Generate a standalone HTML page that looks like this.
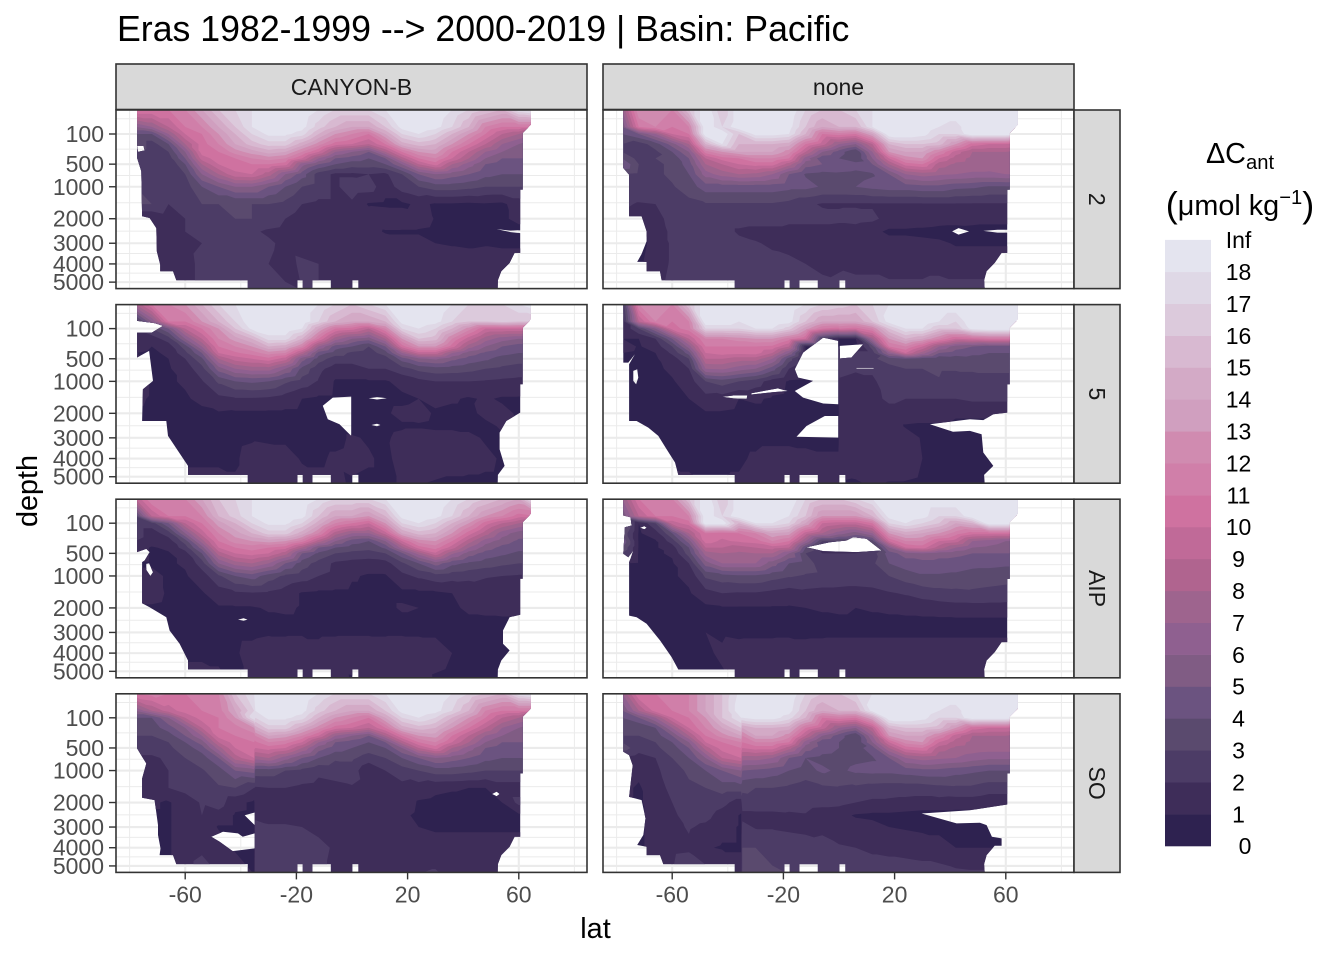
<!DOCTYPE html>
<html lang="en">
<head>
<meta charset="utf-8">
<title>Eras 1982-1999 --> 2000-2019 | Basin: Pacific</title>
<style>
html,body{margin:0;padding:0;background:#fff;}
svg{display:block;font-family:"Liberation Sans",sans-serif;}
</style>
</head>
<body>
<svg id="chart" xmlns="http://www.w3.org/2000/svg" width="1344" height="960" viewBox="0 0 1344 960">
<text x="117" y="41" font-size="35.7" fill="#000">Eras 1982-1999 --&gt; 2000-2019 | Basin: Pacific</text>
<text x="595.5" y="938" font-size="28.8" text-anchor="middle" fill="#000">lat</text>
<text transform="translate(37,491) rotate(-90)" font-size="28.8" text-anchor="middle" fill="#000">depth</text>
<text x="1240" y="163" font-size="28.8" text-anchor="middle" fill="#000">ΔC<tspan font-size="20.2" dy="6">ant</tspan></text>
<text x="1240" y="215" font-size="28.8" text-anchor="middle" fill="#000"><tspan font-size="36" dy="2">(</tspan><tspan dy="-2">μmol kg</tspan><tspan font-size="20.2" dy="-11">−1</tspan><tspan font-size="36" dy="13">)</tspan></text>
<g id="panels"></g>
<g id="legend"></g>
</svg>
<script>
// ---- axis data ----
const latMajor = [-60, -20, 20, 60];
const latMinor = [-80, -40, 0, 40, 80];
const depthMajor = [100, 500, 1000, 2000, 3000, 4000, 5000];
const depthMinor = [14, 262, 729, 1459, 2480, 3481, 4489];
const colFacets = ["CANYON-B", "none"];
const rowFacets = ["2", "5", "AIP", "SO"];

// ---- colour bands ----
const levels = [0,1,2,3,4,5,6,7,8,9,10,11,12,13,14,15,16,17,18];
const levelLabels = ["0","1","2","3","4","5","6","7","8","9","10","11","12","13","14","15","16","17","18","Inf"];
const bandColors = ["#2e2250","#3e2d59","#4c3c66","#5a4a6e","#6b5380","#805c84","#8f6090","#9e648e","#b0648f","#c06a98","#cf72a0","#d07fa9","#d08bb0","#d09fbf","#d3aac6","#d8b9d1","#dccadc","#dfd8e6","#e4e4ef"];

// ---- grid coordinates ----
const depths = [0,50,100,200,300,400,500,700,1000,1500,2000,2500,3000,4000,5500];
const latsBase = [-78,-72,-66,-60,-54,-48,-42,-36,-30,-24,-18,-12,-6,0,6,12,18,24,30,36,42,48,54,60,66];
const latsSplitMid = [-78,-72,-66,-60,-54,-48,-42,-36,-30,-24,-18,-12,-6,-0.2,0.2,6,12,18,24,30,36,42,48,54,60,66];
const latsSplitSouth = [-78,-72,-66,-60,-54,-48,-42,-35.2,-34.8,-30,-24,-18,-12,-6,0,6,12,18,24,30,36,42,48,54,60,66];

// ---- field values: rows follow depths, columns follow the lat array ----
const canyon2 = [
[11,11,11,12,14,16,17,18,19,19,19,18,17,17,17,18,19,19,19,18,17,16,15,18,19],
[6,7,9,11,12,14,16,18,19,19,18.5,16.5,15,14,14,16,18.5,19,18.5,17,15,12,11,11,11],
[4,4,7,10,11,13,15,17,18.3,18.3,17.5,15,13,12,11,14,17,18,17,15,13,11,9,8,6],
[4,2.5,4,8,10.5,12,14,15.5,16.5,16.5,14.5,12.5,10.5,10,9,11,14.5,15.5,15,13,11,9,7,6,5],
[3,2.5,3,6,10.5,11,12.5,13.5,14.5,14,12,10,7,6,5,8,11,13,13.5,11,9,7,6,5,5],
[2,2,2.5,5,9.5,10.5,11,12,12.5,12,10,7,5,4.5,4,5,8.5,11,12,10,8,6,5,5,5],
[2.5,2,2,4,8,10,10.5,11,11,10.5,6.5,5,4,3.5,3.5,4,6,9,10.5,8,6.5,5,4.5,4.5,4.5],
[2,2,2,3,6,8,9.8,10,8.5,6,4.5,2.5,1.8,1.8,2,1.8,3,5,6,5.5,5,4.3,4,4,4],
[3,2,2,2.5,4,5,6,6,5,4,3,2.5,1.8,2.6,2.5,1.4,2.5,3,3.5,3.5,3.3,3,3,3,3],
[3,3,2,2.2,3,3,3,3,3,2.7,2,1.8,1.8,1.8,.9,.8,.8,1.2,.9,.9,.8,.9,.8,1.5,2],
[1,1,1.5,2,2,2.6,3,3,2.8,2,1.5,1.5,1.5,1.5,1.5,1.7,1.6,1.4,.95,.9,.8,.8,.8,1.3,1.5],
[1,1,1.2,2,2.3,2.7,2.6,2.2,1.8,1.6,1.5,1.5,1.5,1.4,1.4,.9,.9,.9,.8,.8,.8,.8,.7,.6,.6],
[1,1,1,1.5,2,2.4,2.3,2,2.2,1.7,1.5,1.5,1.5,1.3,1.5,1.5,1.3,1.3,1,.9,.8,.9,.8,.8,.8],
[1,1,1,1.3,2.5,2.8,2.2,2.2,2,1.6,2.2,2,1.6,1.6,1.6,1.6,1.6,1.6,1.6,1.6,1.6,1.6,1.6,1.6,1.6],
[1,1,1,1.5,2.5,2.5,2.3,2.2,2.3,2.2,2,2,1.7,1.7,1.6,1.7,1.6,1.6,1.8,1.6,1.7,1.7,1.7,1.6,1.6]
];
const none2 = [
[7,13,13,12,16,19,16,19,19,19,19,17,16,16,17,18,19,19,19,19,19,19,19,19,19],
[5,11,12,11,12,19,17,19,19,19,18.5,16,14,15,15,18,19,19,19,18,17.5,19,19,19,19],
[4,5,7,10,11,19,19,16,18.5,18.5,18,15,11,11.5,11,14,19,19,18.5,17,17,19,19,19,19],
[3,2.5,3.5,5.5,8,15,18,15,15,15,14.5,11,9.5,7,6,9,15,16,16,15.5,13,10.5,10,10,9],
[3,2.5,2.8,4,6,11.5,13,14,14,14,12.5,9,6,4.5,3,7,13,14,14,12,9.5,8,8,8,7.5],
[4,2.6,3,3.3,5,9,10.5,11,12,12,11,6.5,4.3,4,3,6,10,12.5,13,10,8.5,7.7,7.8,7.8,7.5],
[5,3,2.8,3.2,4.5,8,9,10,10.5,10.5,8.5,5.5,5,4.8,4.5,5,8,10.5,11,8.5,7.8,7.6,7.5,7.5,7.5],
[3,2.8,2.8,3.2,4,6.5,7.5,8,7.8,7,5,3.9,3.7,3.8,3.7,3.9,5,7,7.5,7.2,7,6.8,6.8,7,7],
[2.8,2.8,2.8,2.9,3.5,4.5,4.5,4.5,4.5,4.5,4.3,4.3,3.9,3.9,4,4.3,4.5,4.5,4.7,4.7,4.3,4.2,3.9,3.9,3.9],
[2.2,1.9,2,2.5,2.7,2.9,2.9,2.9,2.9,2.9,2.7,2.2,1.9,1.9,1.9,1.9,1.9,1.9,1.9,1.9,1.9,1.9,1.9,1.9,1.9],
[1.5,1.5,1.7,2.3,2.5,2.6,2.6,2.6,2.6,2.6,2.3,2.3,2.3,2.2,2.3,2.2,1.7,1.7,1.7,1.5,1.5,1.4,1.4,1.4,1.4],
[1,.8,1.5,2.2,2.5,2.5,2.6,1.8,1.6,1.6,1.6,1.6,1.6,1.6,1.6,1.3,.8,.8,.7,.6,.5,.6,.5,.5,.5],
[.9,.8,1.2,2.2,2.5,2.5,2.5,2.4,2.1,1.8,1.6,1.6,1.5,1.5,1.5,1.5,1.4,1.4,1.3,1.2,.9,.9,.9,.9,.9],
[1,.9,1.3,2.2,2.4,2.4,2.4,2.4,2.4,2.4,2.3,2,1.8,1.9,1.8,1.8,1.6,1.6,1.6,1.6,1.6,1.6,1.6,1.6,1.6],
[1,1,1.5,2.5,3.2,2.6,2.5,2.4,2.4,2.4,2.4,2.3,2.3,2.2,2.3,2.3,2.3,2.3,2.3,2.5,2.3,2.3,2.3,2.3,2.3]
];
const canyon5 = [
[8,11,12,13,15,17,18,19,19,19,19,18,17,16,17,18,19,19,19,18,17,17,17,18,19],
[2,6,11,11,13,15,17,19,19,19,19,17,15,14,14,15,18.5,19,18.5,17,16,16,16.5,16,16],
[2,3,5,9,11,13,16,18.3,19,19,18,14,11,10.5,9,12,17,18,17,15,12.5,10,10,10,10],
[1.5,1.5,2.5,6,9,12,13.5,15,17.5,17.5,15,11,7.5,6,5.5,8,13,16,15.5,12,9.5,7.5,6.5,6,6],
[1.5,1,1.5,3.5,7,11,12,13,15,14.5,12,7,4.5,4,3,5,10.5,13,13,10.5,7.5,6,5,4.5,4.5],
[1,.8,1.2,2.7,5,10,10.8,11.5,12.5,12,8.5,4.5,3.5,2.8,2.5,3.5,7,9.5,9.5,7,5.5,4.8,4.3,4,4],
[1.2,.8,1,2,3.8,8,9.5,10,10.7,9.5,5.5,3.5,2.5,2.5,2,2.5,4.5,5.8,6.2,5.3,4.6,4.2,3.6,3.4,3.4],
[.9,.8,.9,1.5,2.6,5.5,7,7.5,7.5,6,3.7,2.3,1.5,1.5,2,2,2.6,3.3,3.6,3.5,3.3,3,2.8,2.6,2.6],
[1.5,.9,.9,1.1,1.9,3.2,4,4.2,4,3.2,2.6,1.9,.9,.9,.9,.9,1.3,1.7,2,2,2,1.9,1.8,1.7,1.7],
[1.2,.9,.8,.9,1.2,1.7,1.9,1.9,1.8,1.5,1,.8,.8,.8,.8,.8,.8,1,1.2,1.1,.9,1.1,.9,.9,.9],
[.8,.8,.8,.8,.8,.9,.8,.8,.8,.8,.8,.8,.8,.7,.7,.9,1.2,1.3,.9,.8,.8,1.2,1.2,.9,.9],
[.8,.8,.8,.8,.8,.8,.8,.8,.8,.8,.8,.8,.8,.7,.8,.8,.9,.9,.8,.8,.8,.8,1.1,1,1],
[.8,.8,.8,.8,.8,.8,.8,.9,.8,.8,.8,.8,.8,1.1,.9,.9,1.2,1.4,1.4,1.4,1.2,.9,.9,.9,.9],
[.8,.8,.8,.9,.9,.9,.9,1.3,1.5,1.4,.9,.9,1.1,1.2,1.1,.8,1.3,1.5,1.4,1.4,1.3,1.2,.9,.9,.9],
[.8,.8,.8,1.2,1.2,1.2,1.1,1.3,1.4,1.4,1.4,1.2,1.2,.9,.8,.8,1.1,1,.9,.8,.8,.8,.8,.8,.8]
];
const none5 = [
[2,12,13,12,16,19,19,18,19,19,19,18,17,16.5,16.5,16,17,18,19,19,19,19,19,19,19,19],
[1,9,12,11,12,19,19,18,19,19,18.5,16,14,14,14,14,16,18.5,19,19,18,17,19,19,19,19],
[1,3,6,10.5,11.5,17,17,17,18,18,16.5,13.5,11,10.5,11,10.5,12,16,18,18,16,16,18.5,19,19,19],
[1,1,2,5,9,12,12,12.5,13,13,11.5,10,2.5,1,1,1,7.5,13,15,14,12,10,10.5,11,11,11],
[1.5,.9,1.5,3,6.5,11,11,11,11,10.8,9,1,1,1,.5,.6,3.5,11,12,10,7,5.5,5,4.5,4.5,4.5],
[1,.8,1,2.2,4.5,10,10.5,10.3,10.5,9,6,.8,.8,.8,2,2.5,2.5,6.5,10,7.5,5,4.5,4.2,4,4,4],
[1,.8,.9,1.5,3,9,9,8.5,8.5,7,3.5,.8,.8,.8,2.8,2.8,2.8,3.5,4,3.5,3.2,3.5,3.7,3.7,3.7,3.7],
[.9,.8,.8,1.2,2,7,7.2,6.5,6,4.5,2,.8,.8,.8,2.5,2.2,2.2,2.6,3,3,3.2,3.2,3.2,3.2,3.2,3.2],
[.8,.8,.8,.9,1.5,3,3.5,3,2.5,1.5,.9,.8,.8,.8,1.8,1.5,1.8,2.6,2.9,2.9,2.9,2,2.4,2.6,2.6,2.6],
[.8,.8,.8,.8,1,1.6,1.5,1,1.1,.9,.8,.8,.8,.8,1.7,1.3,1.7,2.2,2,2,2,2,2.2,2.2,2.2,2.2],
[.8,.8,.8,.8,.8,.9,.9,.8,.8,.8,.8,.8,.8,.8,1.7,1.8,1.7,1.6,1.6,1.6,1.6,1.2,1.2,1.2,1.2,1.2],
[.8,.8,.8,.8,.8,.8,.8,.8,.8,.8,.8,.8,.8,.8,1.7,1.7,1.7,1.6,.9,.8,.8,.7,.7,.7,.7,.7],
[.8,.8,.8,.8,.8,.8,.8,.8,.8,.8,.8,.8,.8,.8,1.8,2,1.8,1.6,1.5,.9,.8,.8,.8,.8,.8,.8],
[.8,.8,.8,.9,.9,.9,.9,.9,1.1,1.3,1.3,1.2,1.1,1.1,1.6,1.7,1.7,1.6,1.5,1,.8,.8,.8,.8,.8,.8],
[.8,.8,.8,1.2,1.1,1,1,1.1,1.3,1.3,1.3,1.2,1.1,1.2,.9,.8,1.1,.9,.9,.8,.8,.8,.8,.8,.8,.8]
];
const canyonAIP = [
[9,12,12,12,14,16,17,18,19,19,19,18,17,17,17,18,19,19,19,18,17,16,15,14,19],
[3,9,11,11,12,15,16.5,18,19,19,18.5,16,14,14,13,15,18.5,19,18.5,17,15,13,12,10.5,11],
[2.5,2.5,5,9,11,13.5,15,17,18.3,18.3,17,14.5,12,11,10,13,17,18,17,15,13,10.5,9,8,7],
[2.5,1.5,2.5,6,9.5,12,13.5,15,16.5,16.5,14.5,12,8.5,7,7,9.5,14,15.5,15,13,10.5,8.5,6.5,5.5,5],
[2,1.5,1.5,3.5,7.5,11,12.5,13,13.5,13,11.5,8.5,6,4.5,4,6,10,12.5,13,11,8.5,6.5,5.5,4.8,4.8],
[1.5,.9,1.2,2.5,5.5,10,11,11.5,11,10.5,8,5,4,3.5,3.3,4.2,7.5,10.5,11.5,9.5,7,5.5,4.7,4.3,4.3],
[1.5,.9,.9,1.6,4,8.5,10,10.5,10,8.5,5,3.8,3,2.7,2.6,3,4.8,7.5,9.8,7.2,5.5,4.6,4.2,3.8,3.8],
[.9,.9,.9,1.1,2.5,6,7.5,8,7,5,3.5,2.6,1.8,1.6,1.5,1.6,2.8,4,5.5,4.3,3.8,3.5,3.2,3,3],
[1.2,1.2,.9,.9,1.5,2.8,4,4.5,3.5,2.8,2.5,2,1.7,1.1,.9,.9,1.7,2.2,2.6,2.4,2.3,2.1,2,1.9,1.9],
[1.3,1.3,.9,.8,.9,1.5,1.8,1.9,1.8,1.5,.9,.8,.8,.8,.8,.8,.8,.8,.8,1,1.2,1.4,1.2,1.3,1.3],
[.9,.9,.8,.8,.8,.9,.9,.9,1.1,1.2,.9,.8,.8,.8,.8,.8,1.1,1,.8,.8,1.2,1.3,1.4,1.5,1.5],
[.8,.8,.8,.8,.8,.8,.8,.8,.8,.8,.8,.8,.8,.8,.8,.8,.8,.8,.8,.8,.8,.8,.8,.8,.8],
[.8,.8,.8,.8,.8,.8,.8,.8,.9,.9,.9,.9,.9,.9,.9,.9,.9,.9,.9,.8,.8,.8,.8,.8,.8],
[.8,.8,.8,.9,.9,.9,.9,1.3,1.5,1.4,1.5,1.2,1.4,1.5,1.5,1.4,1.5,1.4,1.3,1,.9,.9,.8,.8,.8],
[.8,.8,.8,1.2,1.2,1.1,.9,1.1,1.4,1.5,1.6,1.4,1.5,.9,1.3,1.4,1.5,1.5,.9,.8,.8,.8,.8,.8,.8]
];
const noneAIP = [
[7,11,12,12,16,19,16,19,19,19,19,17,16,16,17,18,19,19,19,19,19,19,19,19,19],
[5,9,11,11,12,19,17,19,19,19,18,16,13,13,13,15,18.5,19,18.5,17,17,19,19,19,19],
[5,1,3,9.5,10.5,19,19,15,18,18,17,14,10,9.5,9.5,11,17,18,17,16,14,15,19,19,19],
[4,.9,1.5,4,8,11,10.5,11,12,14,13.5,9.5,8,6.5,5.5,7,13,14.5,14,13,11.5,10.5,10.5,10.5,10],
[5,.9,.9,2.5,5.5,10.5,9.8,10.2,10.5,12,11,7,3,3,3,3.5,10,12,12,10,9.5,7,6.5,6,6],
[4,.9,.9,1.5,4,9,9,8.5,9,9.5,9,4,1,1,1,1.5,6,10,10.5,8.5,7,6,5.8,5.5,5.5],
[3,.9,.9,1.1,3.5,7.5,8,7.8,8,8,6,3,2,2,2,2.5,4.5,5.5,6,5.5,5.3,5,5,5,5],
[1,.9,.9,.9,2,5.5,7,7,7,5.5,4,3.5,2.5,2.5,2.5,2.8,4,4.5,4.5,4.5,4.5,4.3,4.3,4.2,4.2],
[1,.9,.9,.9,1.2,3.2,3.6,3.8,3.8,3.4,3.1,2.9,2.8,2.7,2.7,2.8,3,3.5,3.9,3.9,3.8,3.6,3.5,3.4,3.4],
[1,.9,.8,.8,.9,1.6,2,1.9,1.9,1.7,1.5,1.7,1.6,1.6,1.5,1.6,1.9,2.1,2.4,2.6,2.7,2.8,2.7,2.6,2.6],
[1,.9,.8,.8,.8,.8,.9,.9,.9,.9,.9,1,1.1,1.2,1,1.1,1.2,1.3,1.4,1.5,1.6,1.6,1.6,1.6,1.6],
[.8,.8,.8,.8,.8,.8,.8,.8,.8,.8,.8,.8,.8,.8,.8,.8,.8,.8,.8,.8,.8,.8,.8,.8,.8],
[.8,.8,.8,.8,1,1,.9,.8,.8,.8,.8,.8,.8,.8,.8,.8,.8,.8,.8,.8,.8,.8,.8,.8,.8],
[.8,.8,.8,.9,.9,.9,1.1,1.4,1.5,1.5,1.6,1.4,1.5,1.6,1.6,1.6,1.6,1.6,1.6,1.6,1.6,1.6,1.6,1.6,1.6],
[.8,.8,.8,1.1,1,.9,.9,1.1,1.3,1.5,1.4,1.6,1.5,1.4,1.3,1.6,1.6,1.6,1.6,1.6,1.6,1.6,1.6,1.6,1.6]
];
const canyonSO = [
[11,11.5,11,11,11,12,16,18,18,18.5,19,19,18,17,17,17,18,19,19,19,18,17,16,15,18,19],
[6,8,9.5,10.5,11,11.5,14,17,18,19,19,18.5,16.5,15,14,14,16,18.5,19,18.5,17,15,12,11,11,11],
[4,4,6,9,10.5,11,13,18,17,18.3,18.3,17.5,15,13,12,11,14,17,18,17,15,13,11,9,8,6],
[4,3.5,4.5,6,9,11,11.5,13,14.5,16.5,16.5,14.5,12.5,10.5,10,9,11,14.5,15.5,15,13,11,9,7,6,5],
[3,3,3.5,5,7,10.5,11,11.5,12,14,13.5,12,10,7,6,5,8,11,13,13.5,11,9,7,6,5,5],
[3,2.5,3,4,5.5,9,10.5,11,10.8,12,11.5,10,7,5,4.5,4,5,8.5,11,12,10,8,6,5,5,5],
[2.5,2.5,2.8,3.5,4.5,7.5,10,10.5,10,10.5,10,8,5.5,4.5,4,3.5,4,6,9,10.5,8,6.5,5,4.5,4.5,4.5],
[1.8,1.8,2.2,3,3.5,5,8.5,10,7.5,8,6.5,5,4,3.2,3.2,2.5,3,4,5,6,5.5,5,4.3,4,4,4],
[1.8,1.8,2,2.5,2.9,3.5,5,5.5,3.5,3.5,3,2.7,2.2,2.3,2.5,1.2,2,2.5,3,3.5,3.5,3.3,3,3,3,3],
[1.6,1.6,2,2.3,2.6,2.9,3,2,1.9,2,2,1.8,1.7,1.8,1.9,1.5,1.8,1.7,1.5,1.2,1.1,1,1,1.5,1.5,1.5],
[1.3,1.1,.9,1.5,2.1,2.5,1.3,.8,1.8,1.8,1.8,1.8,1.8,1.8,1.8,1.8,1.8,1.6,.9,.8,.7,.7,.7,1,2.3,2.3],
[1.4,.9,.9,1.5,2,1.6,.9,.8,1.8,1.7,1.7,1.7,1.7,1.7,1.7,1.7,1.7,1.2,.8,.8,.7,.7,.7,.8,.8,.8],
[1.5,.9,.9,1.5,1.8,.9,.9,.9,2.3,2.1,2.1,2,1.8,1.8,1.7,1.7,1.6,1.5,1,.8,.8,.8,.8,.8,.8,.8],
[1,.9,.9,1.5,1.8,1.6,.9,.9,2.3,2.2,2.3,2.2,2.2,1.9,1.8,1.7,1.7,1.7,1.6,1.6,1.6,1.6,1.6,1.6,1.6,1.6],
[.9,.9,1,1.5,2.5,2,1.5,1,2.5,2.4,2.5,2.3,2.2,1.8,1.8,1.8,1.7,1.7,2,2.1,1.8,1.7,1.7,1.6,1.6,1.6]
];
const noneSO = [
[7,11,11,11,12,14,16,18.5,18.5,19,19,19,17,16,16,17,18,19,19,19,19,19,19,19,19,19],
[5,8,10.5,11,12,14,16,19,18,19,19,18.5,16,14,15,15,18.5,19,19,19,18,17.5,19,19,19,19],
[4,5,7,10,11,13,16,18,18,18.5,18.5,17.5,15,11,11.5,11,14,19,19,18.5,17,17,19,19,19,19],
[4,3,4,7,10,12,14,16,14,15,15,14.5,11,9.5,7,6,9,15,16,16,15.5,13,10.5,10,10,9],
[3,3,3.5,5,8,11,12.5,14,12,14,14,12.5,9,6,4.5,3,7,13,14,14,12,9.5,8,8,8,7.5],
[3,2.5,3,4,6,10,11,12,11,12,12,11,6.5,4.3,4,3,6,10,12.5,13,10,8.5,7.7,7.8,7.8,7.5],
[3.5,2.5,2.8,3.5,5,8.5,10.5,11,10,10.5,10.5,8.5,5.5,4.5,4,3.6,4.5,8,10.5,11,8.5,7.8,7.6,7.5,7.5,7.5],
[1.8,1.5,2,3,4,6,9,10,7.5,7.5,7,5,4,3.7,3.6,3.8,3.9,5,7,7.5,7.2,7,6.5,6.2,6.2,6.2],
[1.5,1.2,1.8,2.5,3.2,4,5,6,5,4.8,4.5,4,3.6,4.2,3.8,4.2,4.3,4.3,4.5,4.7,4.7,4.4,4.2,4,4,4],
[1.2,.9,1.5,2.3,2.8,3,3.5,3.5,3.2,3,3,2.8,2.5,2.8,2.9,2.8,2.6,2.5,2.5,2.5,2.7,2.8,2.8,2.5,2.5,2.5],
[1,.9,1.3,2,2.5,2.7,2.3,1.5,2.6,2.7,2.7,2.5,2.5,2.4,2.3,2,1.8,1.8,1.7,1.6,1.6,1.5,1.5,1.3,1.3,1.3],
[1,.9,1.2,1.8,2.4,2.3,1.6,.9,1.7,1.7,1.7,1.8,1.9,1.3,1.3,.9,.8,.8,.7,.6,.6,.6,.6,.6,.6,.6],
[1,.9,1.2,1.7,2.1,1.8,1.3,.9,2.3,1.9,1.9,1.8,1.7,1.8,1.5,1.4,1.3,1,.9,.8,.8,.8,.8,.8,.8,.8],
[.9,.9,1.2,1.7,1.8,1.1,.9,.9,3,3,2.8,2.6,2.5,2.3,2.1,2,1.8,1.7,1.6,1.5,1.3,1,1,1,1,1],
[.9,.9,1.3,2,3,2.5,2.3,1.5,3.2,3.1,3.1,3,2.9,2.9,3,2.9,2.6,2.6,2.6,2.5,2.5,2.3,2.2,2.2,2.2,2.2]
];

// ---- data coverage boundaries as [lat, depth] ----
const seafloorSteps = [[-37.5,4895],[-37.5,5400],[-19.6,5400],[-19.6,4895],[-17.7,4895],[-17.7,5400],[-14.2,5400],[-14.2,4895],[-7.6,4895],[-7.6,5400],[0.1,5400],[0.1,4895],[2.3,4895],[2.3,5400],[52.4,5400]];
const northCap = [[61.4,1076],[61.4,92],[63.2,57],[64.3,38],[64.3,0]];
const panelShapes = {
  canyon2: {
    west: [[-77.3,0],[-77.3,393],[-75.8,639],[-75.5,1911],[-72.8,1974],[-70.4,2357],[-70.2,3370],[-69,4033],[-69,4390],[-64.4,4390],[-63.2,4895]],
    east: [[52.5,4895],[53.7,4390],[56.7,3950],[58.5,3447],[60.5,3447],[60.5,1076]],
    gaps: [[[-77.3,220],[-75,220],[-74.6,280],[-77,300]],[[52,2400],[57,2460],[60.5,2440],[60.5,2560],[57,2520]]]
  },
  none2: {
    west: [[-77.6,0],[-77.6,572],[-75.5,711],[-75.5,1911],[-71,1911],[-69.2,2490],[-69.2,2912],[-71,3500],[-72.6,3895],[-69.2,3895],[-69.2,4390],[-64.4,4390],[-63.8,4895]],
    east: [[52.2,4895],[53.1,4390],[56,3948],[58.5,3447],[60.5,3447],[60.5,1076]],
    gaps: [[[40.7,2490],[43,2357],[46.8,2490],[43,2625]],[[51.9,2470],[57,2421],[60.5,2421],[60.5,2540],[57,2540]]]
  },
  canyon5: {
    west: [[-77.3,0],[-77.3,47],[-71,60],[-68,79],[-72,135],[-77.3,135],[-77.3,478],[-73,366],[-71.6,988],[-75.2,1216],[-75.5,2290],[-66.8,2290],[-66.2,2912],[-63,3530],[-59,4390],[-59,4895]],
    east: [[52.5,4895],[54.9,4390],[53.1,3530],[53.1,2770],[55.5,2290],[60.5,1974],[60.5,1076]],
    gaps: [[[-10.5,1733],[-6.9,1464],[-0.3,1433],[-0.3,2912],[-4.5,2421],[-8.7,2222]],[[6,1485],[9,1450],[12.5,1485],[9,1525]],[[7,2450],[9,2400],[10.2,2450],[9,2500]]]
  },
  none5: {
    west: [[-77.6,0],[-77.6,572],[-75.8,572],[-73.4,421],[-75.5,605],[-75.5,2290],[-72.8,2290],[-68.6,2557],[-65,2912],[-62,3530],[-59,4210],[-57.8,4895]],
    east: [[52.2,4895],[55.5,4390],[51.9,3695],[51.3,2840],[47.1,2696],[41,2733],[32.7,2421],[47.1,2222],[51.9,2255],[55.5,2036],[60.5,1974],[60.5,1076]],
    gaps: [[[-74,748],[-72.6,711],[-72.2,905],[-73,1076],[-74,988]],
      [[-15.9,711],[-12.9,393],[-5.7,187],[-0.3,226],[-0.3,1678],[-5.7,1655],[-12.9,1464],[-15.9,1265],[-9.3,988],[-14.7,905]],
      [[0.3,292],[8.7,269],[4.5,478],[0.3,495]],
      [[-42,1443],[-38,1400],[-33,1400],[-33.2,1500],[-38,1490]],
      [[-31.5,1330],[-22,1190],[-18.5,1265],[-24,1300],[-31.5,1370]],
      [[-15.3,2950],[-11.7,2490],[-5.1,2100],[-0.3,2100],[-0.3,2990]],
      [[6.3,680],[12.5,680],[12.5,700],[6.3,700]]]
  },
  canyonAIP: {
    west: [[-77.3,0],[-77.3,478],[-74,421],[-72.8,478],[-74.6,639],[-75.5,674],[-75.5,1830],[-72.8,1974],[-66.8,2357],[-65.6,2912],[-62,3530],[-59,4390],[-59,4895]],
    east: [[52.5,4895],[53.7,4390],[56.7,3860],[54.3,3530],[54.3,2912],[56.7,2357],[60.5,2255],[60.5,1076]],
    gaps: [[[-74,711],[-73,700],[-71.6,905],[-72.5,1000],[-74,850]],[[-41,2450],[-39,2400],[-37.6,2450],[-39,2500]]]
  },
  noneAIP: {
    west: [[-77.6,0],[-77.6,47],[-75,57],[-74.6,120],[-77,135],[-77.6,509],[-75.8,572],[-74,449],[-75,605],[-75.5,674],[-75.5,2290],[-72.8,2357],[-69.2,2625],[-64.4,3370],[-60.2,4210],[-57.8,4895]],
    east: [[52.2,4895],[53.1,4390],[56,3948],[58.5,3447],[60.5,3447],[60.5,1076]],
    gaps: [[[-71.5,140],[-70,125],[-69.2,140],[-70,155]],[[-11.7,393],[-3.3,316],[2.7,292],[5.1,247],[9.9,269],[15.3,449],[6.3,478],[-5.7,460]]]
  },
  canyonSO: {
    west: [[-77.3,0],[-77.3,509],[-75.5,674],[-74,825],[-75.5,1216],[-75.5,1830],[-71,1911],[-69.8,2912],[-69.8,3370],[-68.9,4033],[-69.2,4390],[-64.4,4390],[-63.2,4895]],
    east: [[52.5,4895],[53.7,4390],[56.7,3950],[58.5,3447],[60.5,3447],[60.5,1076]],
    gaps: [[[-38.6,2490],[-35,2383],[-35,2912],[-37.5,2625]],
      [[-50.6,3447],[-46.4,3215],[-41,3290],[-39.3,3447],[-35,3290],[-35,4033],[-42.9,4175],[-47.6,3695]],
      [[50.4,1700],[52,1620],[53.1,1700],[52,1780]]]
  },
  noneSO: {
    west: [[-77.6,0],[-77.6,572],[-75.5,639],[-74.2,870],[-75.5,1800],[-71,1911],[-69.6,2625],[-70.4,3370],[-72.6,3860],[-69.2,3948],[-69.2,4390],[-64.4,4390],[-63.2,4895]],
    east: [[52.2,4895],[53.1,4390],[56,3895],[58.5,3895],[58.5,3530],[55,3447],[53.1,2912],[50.7,2812],[42.3,2840],[29.7,2421],[47.1,2290],[60.5,2073],[60.5,1076]],
    gaps: []
  }
};

const panelFields = [
  [canyon2, none2],
  [canyon5, none5],
  [canyonAIP, noneAIP],
  [canyonSO, noneSO]
];
const panelLats = [
  [latsBase, latsBase],
  [latsBase, latsSplitMid],
  [latsBase, latsBase],
  [latsSplitSouth, latsSplitSouth]
];
const panelShapeKeys = [
  ["canyon2", "none2"],
  ["canyon5", "none5"],
  ["canyonAIP", "noneAIP"],
  ["canyonSO", "noneSO"]
];

// ---- scales and layout ----
const SVGNS = "http://www.w3.org/2000/svg";
const colLeft = [116, 603];
const rowTop = [110, 304.6, 499.2, 693.8];
const panelW = 471;
const panelH = 178.6;
const xScale = (lat, c) => colLeft[c] + 69.2 + (lat + 60) * 2.78;
const yScale = (depth, r) => rowTop[r] - 0.4 + 2.44 * Math.sqrt(depth);

function make(tag, parent, attrs, text) {
  const el = document.createElementNS(SVGNS, tag);
  for (const k in attrs) el.setAttribute(k, attrs[k]);
  if (text !== undefined) el.textContent = text;
  parent.appendChild(el);
  return el;
}

function clipTriangle(tri, level) {
  const out = [];
  for (let i = 0; i < 3; i++) {
    const a = tri[i], b = tri[(i + 1) % 3];
    const ina = a[2] >= level, inb = b[2] >= level;
    if (ina) out.push(a);
    if (ina !== inb) {
      const t = (level - a[2]) / (b[2] - a[2]);
      out.push([a[0] + t * (b[0] - a[0]), a[1] + t * (b[1] - a[1]), level]);
    }
  }
  return out;
}

function bandPath(field, lats, c, r, level) {
  let d = "";
  const node = (i, j) => {
    const row = field[i];
    const v = row[j] !== undefined ? row[j] : row[row.length - 1];
    return [xScale(lats[j], c), yScale(depths[i], r), v];
  };
  for (let i = 0; i < depths.length - 1; i++) {
    for (let j = 0; j < lats.length - 1; j++) {
      const p00 = node(i, j), p01 = node(i, j + 1), p10 = node(i + 1, j), p11 = node(i + 1, j + 1);
      for (const tri of [[p00, p01, p11], [p00, p11, p10]]) {
        const poly = clipTriangle(tri, level);
        if (poly.length < 3) continue;
        d += "M" + poly.map(q => q[0].toFixed(1) + " " + q[1].toFixed(1)).join("L") + "Z";
      }
    }
  }
  return d;
}

function ringPath(points, c, r) {
  return "M" + points.map(p => xScale(p[0], c).toFixed(1) + " " + yScale(p[1], r).toFixed(1)).join("L") + "Z";
}

const panelsRoot = document.getElementById("panels");
const defs = make("defs", panelsRoot, {});

rowFacets.forEach((rowName, r) => {
  colFacets.forEach((colName, c) => {
    const left = colLeft[c], top = rowTop[r];
    const g = make("g", panelsRoot, {});
    
    

    const bg = make("rect", g, {x: left, y: top, width: panelW, height: panelH, fill: "#fff"});
    
    

    const grid = make("g", g, {});
    
    
    depthMinor.forEach(v => make("line", grid, {x1: left, x2: left + panelW, y1: yScale(v, r), y2: yScale(v, r), stroke: "#ebebeb", "stroke-width": 1}));
    latMinor.forEach(v => make("line", grid, {x1: xScale(v, c), x2: xScale(v, c), y1: top, y2: top + panelH, stroke: "#ebebeb", "stroke-width": 1}));
    depthMajor.forEach(v => make("line", grid, {x1: left, x2: left + panelW, y1: yScale(v, r), y2: yScale(v, r), stroke: "#ebebeb", "stroke-width": 2.1}));
    latMajor.forEach(v => make("line", grid, {x1: xScale(v, c), x2: xScale(v, c), y1: top, y2: top + panelH, stroke: "#ebebeb", "stroke-width": 2.1}));

    const shape = panelShapes[panelShapeKeys[r][c]];
    const clipId = "clip-" + r + "-" + c;
    const cp = make("clipPath", defs, {id: clipId});
    let clipD = ringPath(shape.west.concat(seafloorSteps, shape.east, northCap), c, r);
    shape.gaps.forEach(gap => { clipD += ringPath(gap, c, r); });
    make("path", cp, {d: clipD, "clip-rule": "evenodd"});

    const field = make("g", g, {"clip-path": "url(#" + clipId + ")"});
    
    
    levels.forEach((level, k) => {
      const p = make("path", field, {d: bandPath(panelFields[r][c], panelLats[r][c], c, r, level), fill: bandColors[k]});
      
      
    });

    const border = make("rect", g, {x: left, y: top, width: panelW, height: panelH, fill: "none", stroke: "#333", "stroke-width": 1.6});
    
    

    if (c === 0) {
      depthMajor.forEach(v => {
        const y = yScale(v, r);
        const tick = make("line", g, {x1: left - 7, x2: left, y1: y, y2: y, stroke: "#333", "stroke-width": 1.4});
        
        
        const lab = make("text", g, {x: left - 12, y: y + 8, "font-size": 23, "text-anchor": "end", fill: "#4d4d4d"}, String(v));
        
        
      });
    }
    if (r === rowFacets.length - 1) {
      latMajor.forEach(v => {
        const x = xScale(v, c);
        const tick = make("line", g, {x1: x, x2: x, y1: top + panelH, y2: top + panelH + 7, stroke: "#333", "stroke-width": 1.4});
        
        
        const lab = make("text", g, {x: x, y: top + panelH + 30, "font-size": 23, "text-anchor": "middle", fill: "#4d4d4d"}, String(v));
        
        
      });
    }
  });

  const sx = colLeft[1] + panelW, sy = rowTop[r];
  const strip = make("rect", panelsRoot, {x: sx, y: sy, width: 46, height: panelH, fill: "#d9d9d9", stroke: "#333", "stroke-width": 1.6});
  
  
  const stripText = make("text", panelsRoot, {transform: "translate(" + (sx + 15) + "," + (sy + panelH / 2) + ") rotate(90)", "font-size": 23, "text-anchor": "middle", fill: "#1a1a1a"}, rowName);
  
  
});

colFacets.forEach((colName, c) => {
  const strip = make("rect", panelsRoot, {x: colLeft[c], y: 64, width: panelW, height: 45.5, fill: "#d9d9d9", stroke: "#333", "stroke-width": 1.6});
  
  
  const t = make("text", panelsRoot, {x: colLeft[c] + panelW / 2, y: 95, "font-size": 23, "text-anchor": "middle", fill: "#1a1a1a"}, colName);
  
  
});

// ---- legend ----
const legendRoot = document.getElementById("legend");
const legendBottom = 846, legendStep = 31.9;
levels.forEach((level, k) => {
  const rect = make("rect", legendRoot, {x: 1165, y: legendBottom - legendStep * (k + 1), width: 46, height: legendStep + 0.3, fill: bandColors[k]});
  
  
});
levelLabels.forEach((label, k) => {
  const cx = k === 0 ? 1245 : 1238.5;
  const t = make("text", legendRoot, {x: cx, y: legendBottom - legendStep * k + 8.2, "font-size": 23, "text-anchor": "middle", fill: "#000"}, label);
  
  
});
</script>
</body>
</html>
